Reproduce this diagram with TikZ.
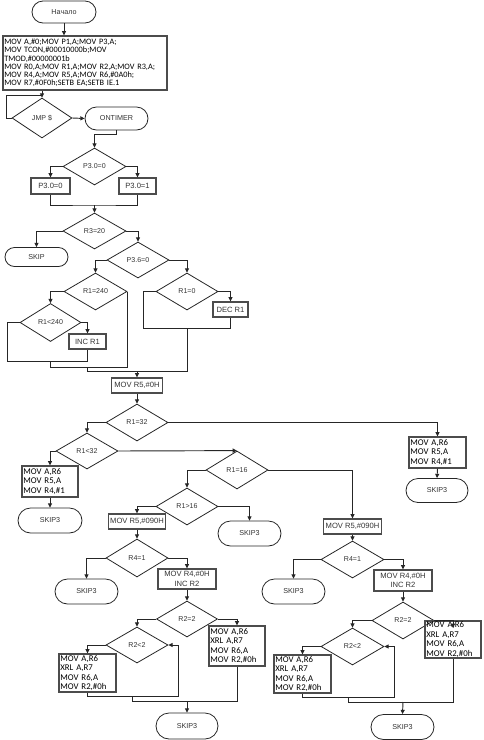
\documentclass[tikz,border=0pt]{standalone}
\usepackage{fontspec}
\newfontfamily\arialf{Liberation Sans}
\newfontfamily\calf{Carlito}
\usetikzlibrary{shapes.geometric,shapes.misc,arrows.meta}
\tikzset{
  ln/.style={line width=0.7pt, draw=black!85},
  arr/.style={ln, -{Triangle[length=3.2pt,width=3pt]}},
  sz/.style 2 args={minimum width=#1*0.75pt, minimum height=#2*0.75pt},
  dia/.style={diamond, aspect=1.7, draw=black!85, line width=0.6pt, inner sep=0pt, text=black!80, font=\arialf\fontsize{5.3}{6}\selectfont},
  term/.style={rounded rectangle, draw=black!85, line width=0.6pt, inner sep=0pt, text=black!80, font=\arialf\fontsize{5.4}{6}\selectfont},
  box/.style={rectangle, draw=black!70, line width=1pt, inner sep=0pt, text=black!80, font=\arialf\fontsize{5.7}{7}\selectfont, align=center},
  mbox/.style 2 args={rectangle, draw=black!70, line width=1pt, inner xsep=1pt, inner ysep=0pt,
     minimum height=#2*0.75pt, text width=#1*0.75pt-2pt, align=left, font=\calf\fontsize{6.6}{7.2}\selectfont},
}
\begin{document}
\begin{tikzpicture}[x=0.75pt,y=-0.75pt]
\useasboundingbox (0,0) rectangle (484,740);
% top
\node[term,sz={64}{22}] (start) at (64,12) {Начало};
\node[rectangle, draw=black!70, line width=1pt, inner xsep=1pt, inner ysep=0pt, minimum height=54*0.75pt,
      text width=164*0.75pt-2pt, align=left, font=\calf\fontsize{6.2}{6.15}\selectfont] (init) at (85,63)
  {MOV A,\#0;MOV P1,A;MOV P3,A;\\MOV TCON,\#00010000b;MOV\\TMOD,\#00000001b\\MOV R0,A;MOV R1,A;MOV R2,A;MOV R3,A;\\MOV R4,A;MOV R5,A;MOV R6,\#0A0h;\\MOV R7,\#0F0h;SETB EA;SETB IE.1};
\node[dia,sz={60}{40}] (jmp) at (42,118) {JMP \$};
\node[term,sz={63}{23}] (ontimer) at (116.5,118.5) {ONTIMER};
\node[dia,sz={63}{37}] (p30) at (94.5,166.5) {P3.0=0};
\node[box,sz={39}{16}] (b30a) at (50.5,186) {P3.0=0};
\node[box,sz={37}{16}] (b30b) at (137.5,186) {P3.0=1};
\node[dia,sz={63}{36}] (r320) at (94.5,231) {R3=20};
\node[term,sz={63}{19}] (skip) at (36.5,257) {SKIP};
\node[dia,sz={62}{36}] (p36) at (138,260) {P3.6=0};
\node[dia,sz={63}{37}] (r1240) at (95.5,291.5) {R1=240};
\node[dia,sz={62}{37}] (r10) at (187,291.5) {R1=0};
\node[box,sz={35}{15}] (dec) at (230.5,309.5) {DEC R1};
\node[dia,sz={61}{38}] (r1lt240) at (50.5,322.5) {R1<240};
\node[box,sz={37}{15}] (inc) at (87.5,341.5) {INC R1};
\node[box,sz={51}{15}] (movr5) at (137,385.5) {MOV R5,\#0H};
\node[dia,sz={62}{37}] (r132) at (137,422.5) {R1=32};
\node[mbox={57}{31}] (boxR) at (437.5,452.5) {MOV A,R6\\MOV R5,A\\MOV R4,\#1};
\node[term,sz={62}{24}] (skip3R) at (437,490.5) {SKIP3};
\node[dia,sz={62}{36}] (r1lt32) at (87,451) {R1<32};
\node[mbox={56}{31}] (boxL) at (50,481.5) {MOV A,R6\\MOV R5,A\\MOV R4,\#1};
\node[term,sz={64}{25}] (skip3L) at (50,520.5) {SKIP3};
\node[dia,sz={62}{38}] (r116) at (237,470) {R1=16};
\node[dia,sz={62}{37}] (r1gt16) at (187,506.5) {R1>16};
\node[box,sz={57}{15}] (m090L) at (137,521.5) {MOV R5,\#090H};
\node[term,sz={63}{25}] (skip3M) at (249.5,533.5) {SKIP3};
\node[box,sz={58}{15}] (m090R) at (352.5,526.5) {MOV R5,\#090H};
% lower left branch
\node[dia,sz={62}{38}] (r41L) at (137,558) {R4=1};
\node[term,sz={63}{25}] (skip3a) at (86.5,591.5) {SKIP3};
\node[box,sz={58}{20}] (incL) at (187,579) {MOV R4,\#0H\\INC R2};
\node[dia,sz={61}{36}] (r22L) at (187,619) {R2=2};
\node[mbox={56}{40}] (xrlRL) at (237,646) {MOV A,R6\\XRL A,R7\\MOV R6,A\\MOV R2,\#0h};
\node[dia,sz={62}{36}] (r2lt2L) at (137,645) {R2<2};
\node[mbox={57}{38}] (xrlLL) at (87.5,673) {MOV A,R6\\XRL A,R7\\MOV R6,A\\MOV R2,\#0h};
\node[term,sz={62}{26}] (skip3b) at (187,726) {SKIP3};
% lower right branch
\node[dia,sz={63}{37}] (r41R) at (352.5,559.5) {R4=1};
\node[term,sz={63}{25}] (skip3c) at (293.5,591.5) {SKIP3};
\node[box,sz={58}{21}] (incR) at (403,580.5) {MOV R4,\#0H\\INC R2};
\node[dia,sz={62}{37}] (r22R) at (403,620.5) {R2=2};
\node[mbox={56}{37}] (xrlRR) at (453,639.5) {MOV A,R6\\XRL A,R7\\MOV R6,A\\MOV R2,\#0h};
\node[dia,sz={63}{37}] (r2lt2R) at (352.5,646.5) {R2<2};
\node[mbox={57}{38}] (xrlLR) at (302.5,674) {MOV A,R6\\XRL A,R7\\MOV R6,A\\MOV R2,\#0h};
\node[term,sz={63}{25}] (skip3d) at (402.5,727) {SKIP3};

% coordinates
\coordinate (L0) at (6,95);
\coordinate (j1) at (94.5,205);
\coordinate (L1) at (7,361);
\coordinate (j3) at (50.5,361);
\coordinate (j4) at (50.5,367);
\coordinate (j5) at (87.5,367);
\coordinate (j6) at (87.5,371.5);
\coordinate (L2) at (143,328);
\coordinate (j7) at (187,328);
\coordinate (j8) at (137,371.5);
\coordinate (L3) at (178,696);
\coordinate (j9) at (132,696);
\coordinate (j10) at (132,701);
\coordinate (j11) at (187,701);
\coordinate (A1) at (453,628);
\coordinate (L4) at (394,697);
\coordinate (j12) at (348,697);
\coordinate (j13) at (348,702);
\coordinate (j14) at (403,702);

% connectors
\draw[arr] (start.south) -- (start.south |- init.north);
\draw[arr] (init.south -| jmp.north) -- (jmp.north);
\draw[ln] (jmp.west) -| (L0) -- (L0 -| jmp.north);
\draw[arr] (jmp.east) -- (ontimer.west);
\draw[arr] (ontimer.south) -- ++(0,4) -| (p30.north);
\draw[arr] (p30.west) -| (b30a.north);
\draw[arr] (p30.east) -| (b30b.north);
\draw[ln] (b30a.south) |- (j1) -| (b30b.south);
\draw[arr] (j1) -- (r320.north);
\draw[arr] (r320.west) -| (skip.north);
\draw[arr] (r320.east) -| (p36.north);
\draw[arr] (p36.west) -| (r1240.north);
\draw[arr] (p36.east) -| (r10.north);
\draw[arr] (r1240.west) -| (r1lt240.north);
\draw[arr] (r1lt240.east) -| (inc.north);
\draw[ln] (r1lt240.west) -| (L1) -| (inc.south);
\draw[ln] (j3) -- (j4) -| (r1240.east);
\draw[arr] (r10.east) -| (dec.north);
\draw[ln] (r10.west) -| (L2) -| (dec.south);
\draw[ln] (j5) -- (j6) -| (j7);
\draw[arr] (j8) -- (movr5.north);
\draw[arr] (movr5.south) -- (r132.north);
\draw[arr] (r132.east) -| (boxR.north);
\draw[arr] (boxR.south) -- (skip3R.north);
\draw[arr] (r132.west) -| (r1lt32.north);
\draw[arr] (r1lt32.west) -| (boxL.north);
\draw[arr] (boxL.south) -- (skip3L.north);
\draw[arr] (r1lt32.east) -- (r116.north);
\draw[arr] (r116.west) -| (r1gt16.north);
\draw[arr] (r116.east) -| (m090R.north);
\draw[arr] (r1gt16.west) -| (m090L.north);
\draw[arr] (r1gt16.east) -| (skip3M.north);
% left lower
\draw[arr] (m090L.south) -- (r41L.north);
\draw[arr] (r41L.west) -| (skip3a.north);
\draw[arr] (r41L.east) -| (incL.north);
\draw[arr] (incL.south) -- (r22L.north);
\draw[arr] (r22L.east) -| (xrlRL.north);
\draw[arr] (r22L.west) -| (r2lt2L.north);
\draw[arr] (r2lt2L.west) -| (xrlLL.north);
\draw[arr] (xrlLL.south) |- (L3) |- (r2lt2L.east);
\draw[ln] (j9) -- (j10) -| (xrlRL.south);
\draw[arr] (j11) -- (skip3b.north);
% right lower
\draw[arr] (m090R.south) -- (r41R.north);
\draw[arr] (r41R.west) -| (skip3c.north);
\draw[arr] (r41R.east) -| (incR.north);
\draw[arr] (incR.south) -- (r22R.north);
\draw[arr] (r22R.east) -| (A1);
\draw[arr] (r22R.west) -| (r2lt2R.north);
\draw[arr] (r2lt2R.west) -| (xrlLR.north);
\draw[arr] (xrlLR.south) |- (L4) |- (r2lt2R.east);
\draw[ln] (j12) -- (j13) -| (xrlRR.south);
\draw[arr] (j14) -- (skip3d.north);
\end{tikzpicture}
\end{document}
